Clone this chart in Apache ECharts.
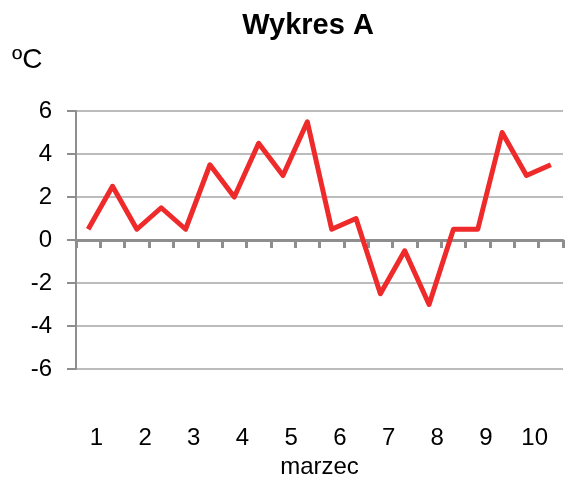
<!DOCTYPE html>
<html>
<head>
<meta charset="utf-8">
<script src="https://cdn.jsdelivr.net/npm/echarts@6/dist/echarts.min.js"></script>
<style>
  html, body { margin: 0; padding: 0; background: #fff; }
  #chart { width: 565px; height: 480px; }
</style>
</head>
<body>
<div id="chart"></div>
<script>
// dwa pomiary na dzień, 1–10 marca
const points = ['1a', '1b', '2a', '2b', '3a', '3b', '4a', '4b', '5a', '5b',
  '6a', '6b', '7a', '7b', '8a', '8b', '9a', '9b', '10a', '10b']
const days = ['1', '2', '3', '4', '5', '6', '7', '8', '9', '10']
const temps = [0.5, 2.5, 0.5, 1.5, 0.5, 3.5, 2, 4.5, 3, 5.5,
  0.5, 1, -2.5, -0.5, -3, 0.5, 0.5, 5, 3, 3.5]

const font = 'Liberation Sans, Arial, sans-serif'
const gray = '#8e8e8e'

const chart = echarts.init(document.getElementById('chart'))
chart.setOption({
  animation: false,
  title: {
    text: 'Wykres A',
    left: 303,
    top: 6,
    textAlign: 'center',
    textStyle: { fontFamily: font, fontSize: 29, fontWeight: 'bold', color: '#000' }
  },
  graphic: [{
    type: 'text',
    left: 12,
    top: 46,
    style: { text: 'ºC', fontFamily: font, fontSize: 28, fill: '#000' }
  }],
  grid: { left: 76, right: 2, top: 111, bottom: 111, outerBoundsMode: 'none' },
  xAxis: [
    {
      type: 'category',
      data: points,
      position: 'top',
      boundaryGap: true,
      axisLine: { onZero: true, lineStyle: { color: gray, width: 3 } },
      axisTick: { show: true, inside: true, length: 8, interval: 0, lineStyle: { color: gray, width: 3 } },
      axisLabel: { show: false },
      splitLine: { show: false }
    },
    {
      type: 'category',
      data: days,
      position: 'bottom',
      boundaryGap: true,
      axisLine: { show: false },
      axisTick: { show: false },
      axisLabel: { margin: 57, padding: [0, 8, 0, 0], fontFamily: font, fontSize: 24, color: '#000' },
      name: 'marzec',
      nameLocation: 'middle',
      nameGap: 85,
      nameTextStyle: { fontFamily: font, fontSize: 24, color: '#000' }
    }
  ],
  yAxis: {
    type: 'value',
    min: -6,
    max: 6,
    interval: 2,
    axisLine: { show: true, lineStyle: { color: gray, width: 2 } },
    axisTick: { show: true, length: 9, lineStyle: { color: gray, width: 2 } },
    axisLabel: { margin: 24, fontFamily: font, fontSize: 24, color: '#000' },
    splitLine: { lineStyle: { color: '#a6a6a6', width: 1.5 } }
  },
  series: [{
    type: 'line',
    data: temps,
    xAxisIndex: 0,
    symbol: 'none',
    lineStyle: { color: '#ee2a2a', width: 5, join: 'round' },
    z: 3
  }]
})
</script>
</body>
</html>
